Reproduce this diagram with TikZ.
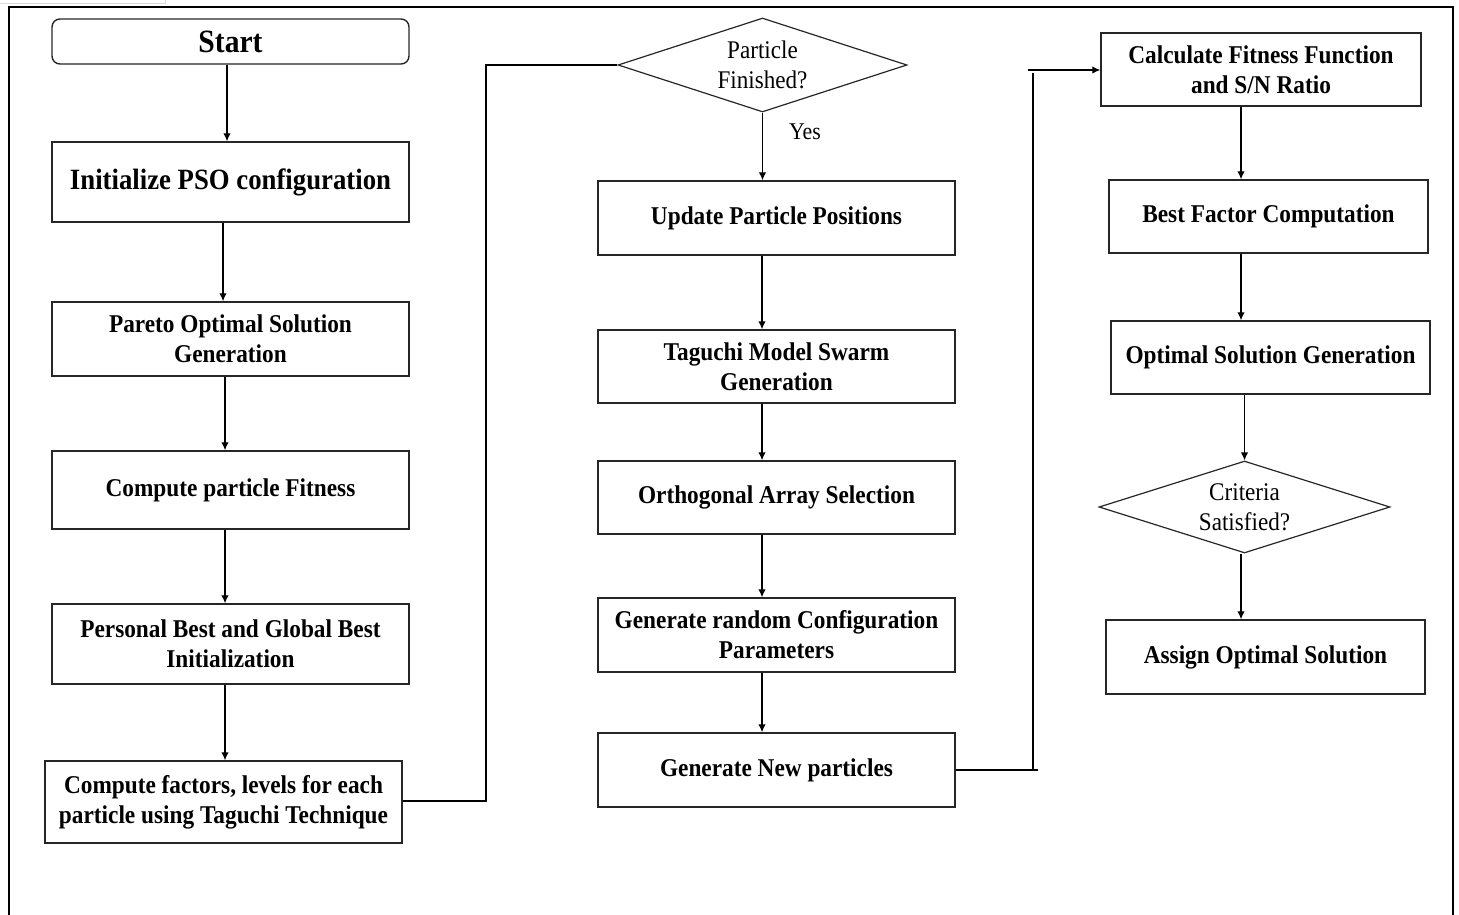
\documentclass[tikz,border=0pt]{standalone}
\usepackage{fontspec}
\setmainfont[FakeStretch=0.91]{Liberation Serif}
\usetikzlibrary{shapes.geometric,arrows.meta}
\tikzset{
  box/.style={draw=black!85, line width=1.4pt, rectangle, align=center, inner sep=2pt,
    font=\fontsize{25.6}{30}\selectfont\bfseries},
  diam/.style={draw=black!85, line width=1.2pt, diamond, inner sep=0pt},
  dtext/.style={align=center, font=\fontsize{25.4}{30}\selectfont},
  arr/.style={line width=1.3pt, -{Latex[length=8pt,width=7.5pt]}},
  ln/.style={line width=1.3pt}
}
\begin{document}
\begin{tikzpicture}[x=1pt,y=-1pt]
\useasboundingbox (0,0) rectangle (1459,915);
% faint artefact and outer frame
\draw[black!15, line width=0.8pt] (0,3) -- (165,3) -- (165,0);
\draw[line width=2.4pt] (9,915) -- (9,7) -- (1453,7) -- (1453,915);

% column 1
\node[box, rounded corners=8pt, minimum width=357, minimum height=45,
  font=\fontsize{32.5}{36}\selectfont\bfseries] (start) at (230.5,41.5) {Start};
\node[box, minimum width=357, minimum height=80,
  font=\fontsize{29.4}{34}\selectfont\bfseries] (init) at (230.5,182) {Initialize PSO configuration};
\node[box, minimum width=357, minimum height=74] (pareto) at (230.5,339) {Pareto Optimal Solution\\Generation};
\node[box, minimum width=357, minimum height=78] (fit) at (230.5,490) {Compute particle Fitness};
\node[box, minimum width=357, minimum height=80] (pbest) at (230.5,644) {Personal Best and Global Best\\Initialization};
\node[box, minimum width=357, minimum height=82] (fact) at (223.5,802) {Compute factors, levels for each\\particle using Taguchi Technique};

% column 2
\node[diam, minimum width=289, minimum height=94,
  label={[dtext]center:Particle\\Finished?}] (pf) at (762.5,65) {};
\node[font=\fontsize{24}{28}\selectfont] (yes) at (805,132) {Yes};
\node[box, minimum width=357, minimum height=74] (upd) at (776.5,218) {Update Particle Positions};
\node[box, minimum width=357, minimum height=73] (tag) at (776.5,366.5) {Taguchi Model Swarm\\Generation};
\node[box, minimum width=357, minimum height=73] (orth) at (776.5,497.5) {Orthogonal Array Selection};
\node[box, minimum width=357, minimum height=74] (rand) at (776.5,635) {Generate random Configuration\\Parameters};
\node[box, minimum width=357, minimum height=74] (newp) at (776.5,770) {Generate New particles};

% column 3
\node[box, minimum width=320, minimum height=73] (calc) at (1261,69.5) {Calculate Fitness Function\\and S/N Ratio};
\node[box, minimum width=319, minimum height=73] (best) at (1268.5,216.5) {Best Factor Computation};
\node[box, minimum width=319, minimum height=73] (opt) at (1270.5,357.5) {Optimal Solution Generation};
\node[diam, minimum width=291, minimum height=92,
  label={[dtext]center:Criteria\\Satisfied?}] (crit) at (1244.5,507) {};
\node[box, minimum width=319, minimum height=74] (assign) at (1265.5,657) {Assign Optimal Solution};

% connectors column 1
\draw[arr] ([xshift=-3.5pt]start.south) -- ([xshift=-3.5pt]init.north);
\draw[arr] ([xshift=-7.5pt]init.south) -- ([xshift=-7.5pt]pareto.north);
\draw[arr] ([xshift=-5.5pt]pareto.south) -- ([xshift=-5.5pt]fit.north);
\draw[arr] ([xshift=-5.5pt]fit.south) -- ([xshift=-5.5pt]pbest.north);
\draw[arr] ([xshift=-5.5pt]pbest.south) -- ([xshift=1.5pt]fact.north);

% link column 1 -> diamond
\coordinate (j1) at (486,801);
\draw[ln] (fact.east |- j1) -- (j1) |- (pf.west);

% connectors column 2
\draw[arr] (pf.south) -- ([xshift=-14pt]upd.north);
\draw[arr] ([xshift=-14.5pt]upd.south) -- ([xshift=-14.5pt]tag.north);
\draw[arr] ([xshift=-14.5pt]tag.south) -- ([xshift=-14.5pt]orth.north);
\draw[arr] ([xshift=-14.5pt]orth.south) -- ([xshift=-14.5pt]rand.north);
\draw[arr] ([xshift=-14.5pt]rand.south) -- ([xshift=-14.5pt]newp.north);

% link column 2 -> column 3
\coordinate (j2) at (1033,770);
\coordinate (j3) at (1033,70);
\draw[ln] (newp.east) -- ([xshift=5pt]j2);
\draw[ln] (j2) -- ([yshift=-3pt]j3);
\draw[arr] ([xshift=-5pt]j3) -- (calc.west |- j3);

% connectors column 3
\draw[arr] ([xshift=-20pt]calc.south) -- ([xshift=-27.5pt]best.north);
\draw[arr] ([xshift=-27.5pt]best.south) -- ([xshift=-29.5pt]opt.north);
\draw[arr] ([xshift=-26pt]opt.south) -- (crit.north);
\draw[arr] ([xshift=-3.5pt]crit.south) -- ([xshift=-24.5pt]assign.north);
\end{tikzpicture}
\end{document}
